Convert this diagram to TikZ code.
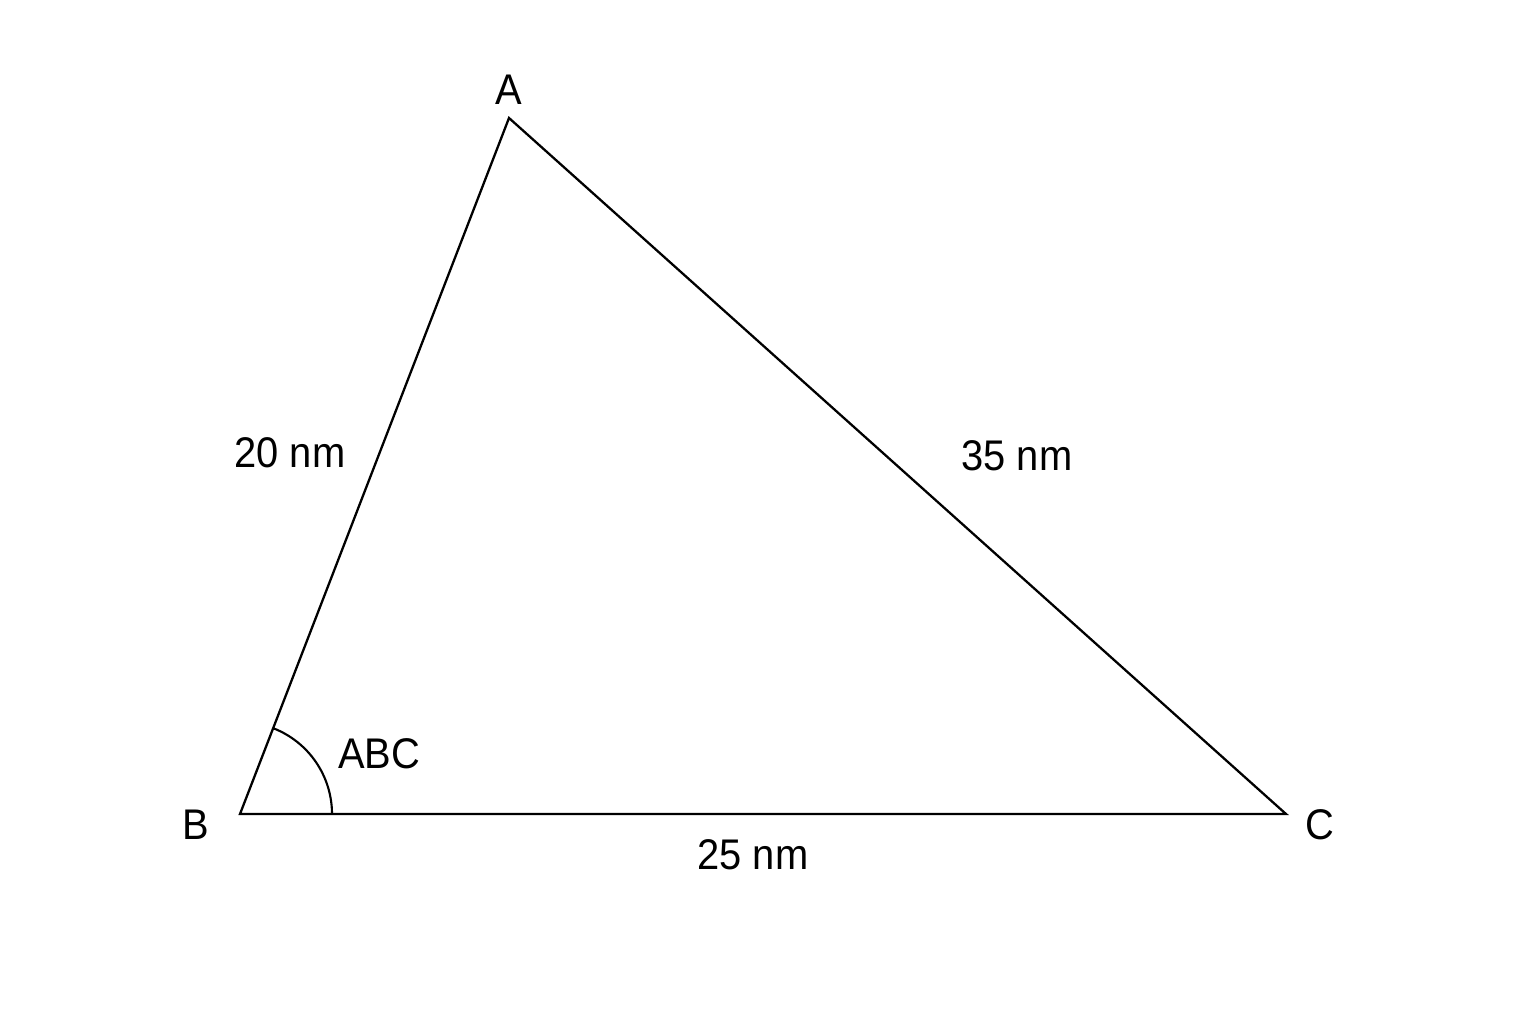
\documentclass[tikz,border=0pt]{standalone}
\usepackage{fontspec}
\setmainfont{Liberation Sans}[FakeStretch=0.93]
\begin{document}
\begin{tikzpicture}[font=\fontsize{12.2}{14}\selectfont, side/.style={line width=0.65pt, line join=miter}]
        \useasboundingbox (0,0) rectangle (15.36,10.24);
        % Triangle ABC
        \coordinate (vA) at (5.09,9.06);
        \coordinate (vB) at (2.40,2.10);
        \coordinate (vC) at (12.86,2.10);
        \draw[side] (vA) -- (vB) -- (vC) -- cycle;
        \draw[line width=0.6pt] ([shift={(0:0.92)}]vB) arc (0:69:0.92);
        \node (labA) at (5.09,9.34) {A};
        \node (labB) at (1.96,1.99) {B};
        \node (labC) at (13.20,1.99) {C};
        \node (sideAB) at (2.90,5.71) {20 nm};
        \node (sideAC) at (10.17,5.68) {35 nm};
        \node (sideBC) at (7.53,1.69) {25 nm};
        \node (angB) at (3.79,2.70) {ABC};
    \end{tikzpicture}
\end{document}
